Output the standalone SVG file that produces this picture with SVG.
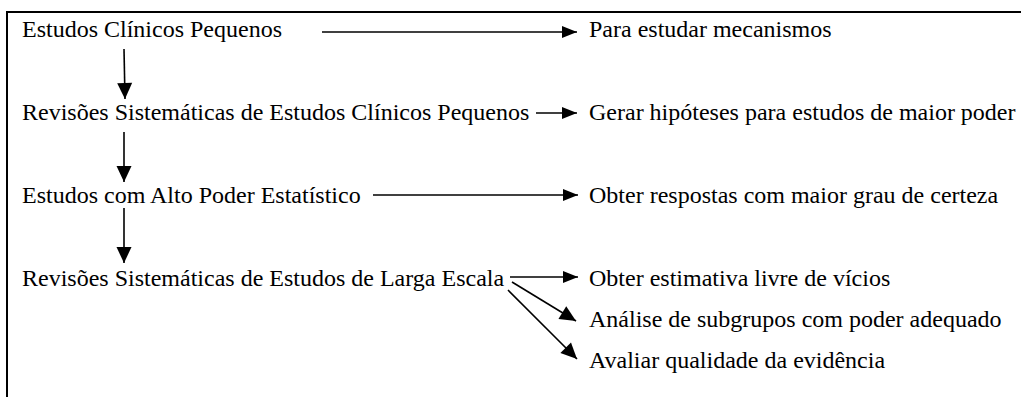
<svg xmlns="http://www.w3.org/2000/svg" width="1021" height="397" viewBox="0 0 1021 397">
<style>
text{font-family:"Liberation Serif","Times New Roman",serif;font-size:24px;fill:#000}
.c{stroke:#000;stroke-width:1.6;fill:none}
.frame{stroke:#000;stroke-width:2;fill:none}
</style>
<defs>
<marker id="ah" markerUnits="userSpaceOnUse" markerWidth="16" markerHeight="13" refX="15" refY="6" orient="auto" overflow="visible">
<path d="M0,0 L15,6 L0,12 Z" fill="#000"/>
</marker>
<marker id="av" markerUnits="userSpaceOnUse" markerWidth="17" markerHeight="16" refX="16" refY="7.5" orient="auto" overflow="visible">
<path d="M0,0 L16,7.5 L0,15 Z" fill="#000"/>
</marker>
</defs>
<rect width="1021" height="397" fill="#fff"/>
<path class="frame" d="M7,397 V12 H1021"/>
<g font-family="Liberation Serif, Times New Roman, serif" font-size="24">
<g id="n1"><text x="22" y="37">Estudos Clínicos Pequenos</text></g>
<g id="n2"><text x="22" y="120">Revisões Sistemáticas de Estudos Clínicos Pequenos</text></g>
<g id="n3"><text x="22" y="203">Estudos com Alto Poder Estatístico</text></g>
<g id="n4"><text x="22" y="286">Revisões Sistemáticas de Estudos de Larga Escala</text></g>
<g id="r1"><text x="589" y="37">Para estudar mecanismos</text></g>
<g id="r2"><text x="589" y="120">Gerar hipóteses para estudos de maior poder</text></g>
<g id="r3"><text x="589" y="203">Obter respostas com maior grau de certeza</text></g>
<g id="r4"><text x="589" y="286">Obter estimativa livre de vícios</text></g>
<g id="r5"><text x="589" y="327">Análise de subgrupos com poder adequado</text></g>
<g id="r6"><text x="589" y="368">Avaliar qualidade da evidência</text></g>
</g>
<g id="connectors">
<line class="c" x1="322" y1="32" x2="577" y2="32" marker-end="url(#ah)"/>
<line class="c" x1="536" y1="113" x2="577" y2="113" marker-end="url(#ah)"/>
<line class="c" x1="373" y1="195" x2="578" y2="195" marker-end="url(#ah)"/>
<line class="c" x1="510" y1="277" x2="578" y2="277" marker-end="url(#ah)"/>
<line class="c" x1="512" y1="282" x2="576" y2="321" marker-end="url(#av)"/>
<line class="c" x1="508" y1="290" x2="577" y2="359" marker-end="url(#av)"/>
<line class="c" x1="124" y1="49" x2="125" y2="99" marker-end="url(#av)"/>
<line class="c" x1="124" y1="132" x2="124" y2="182" marker-end="url(#av)"/>
<line class="c" x1="124" y1="208" x2="124" y2="263" marker-end="url(#av)"/>
</g>
</svg>
